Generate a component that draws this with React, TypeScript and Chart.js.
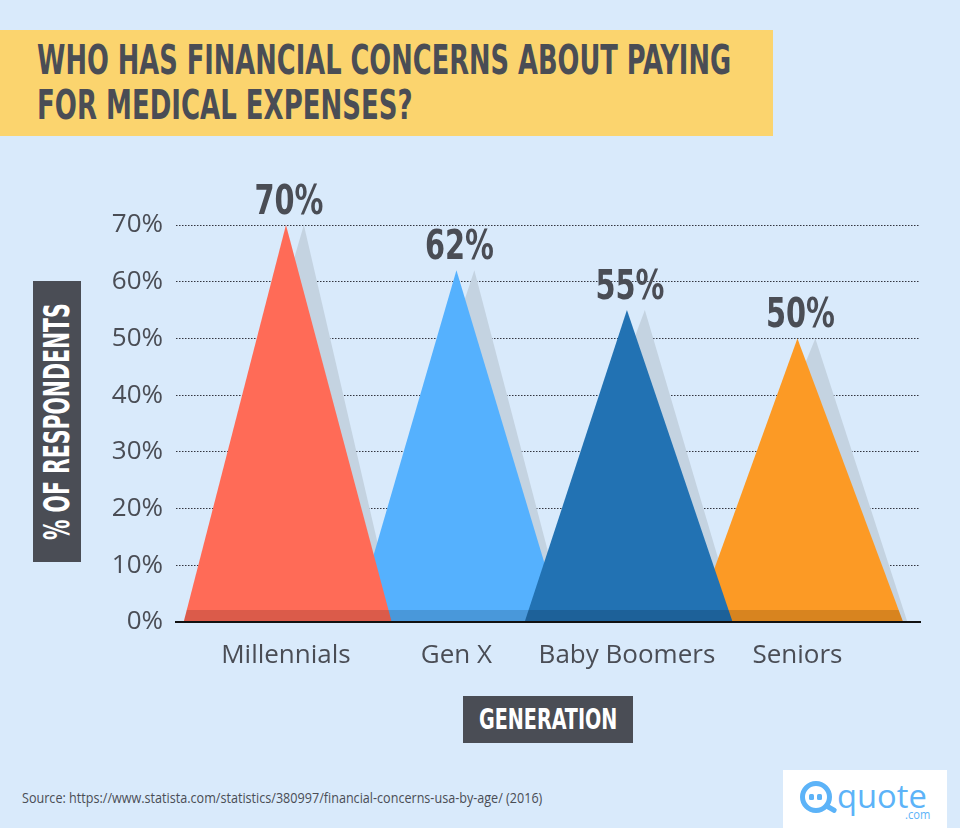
import React, { useEffect, useLayoutEffect, useRef } from 'react';
import { Chart, registerables } from 'chart.js';

Chart.register(...registerables);

// ---------- data ----------
const categories = ['Millennials', 'Gen X', 'Baby Boomers', 'Seniors'];
const values = [70, 62, 55, 50];
const barColors = ['#ff6b57', '#55b1fe', '#2272b3', '#fc9a25'];
const drawOrder = [1, 5, 1, 5]; // lower order is drawn on top
const yTickValues = [0, 10, 20, 30, 40, 50, 60, 70];
const yTickLabels = ['0%', '10%', '20%', '30%', '40%', '50%', '60%', '70%'];
const titleLines = ['WHO HAS FINANCIAL CONCERNS ABOUT PAYING', 'FOR MEDICAL EXPENSES?'];
const yAxisTitle = '% OF RESPONDENTS';
const xAxisTitle = 'GENERATION';
const sourceText = 'Source: https://www.statista.com/statistics/380997/financial-concerns-usa-by-age/ (2016)';

// ---------- style ----------
const BG = '#d9eafb';
const YELLOW = '#fbd46e';
const DARK = '#4a4d55';
const SHADOW = '#c4d3e1';
const LOGO_BLUE = '#5cb3f8';
const NARROW = '"Liberation Sans Narrow", "DejaVu Sans Condensed", "Roboto", sans-serif';
const HALF_LEFT = 0.6;
const HALF_RIGHT = 0.62;
const SHADOW_APEX_SHIFT = 0.105;
const SHADOW_BASE_SHIFT = 0.025;
const X_MIN = -0.645;
const X_MAX = 3.719;

type FitProps = {
  text: string;
  width: number;
  size: number;
  lineHeight: number;
  family: string;
  weight?: number | string;
  color: string;
};

function FitText({ text, width, size, lineHeight, family, weight = 400, color }: FitProps) {
  const ref = useRef<HTMLSpanElement>(null);
  useLayoutEffect(() => {
    const fit = () => {
      const el = ref.current;
      if (!el) return;
      el.style.transform = 'none';
      const w = el.offsetWidth;
      if (w > 0) el.style.transform = `scaleX(${width / w})`;
    };
    fit();
    const fonts = (document as any).fonts;
    if (fonts && fonts.ready) fonts.ready.then(fit);
  }, [text, width]);
  return (
    <div style={{ position: 'relative', width, height: lineHeight }}>
      <span
        ref={ref}
        style={{
          position: 'absolute',
          left: 0,
          top: 0,
          whiteSpace: 'nowrap',
          fontFamily: family,
          fontSize: size,
          fontWeight: weight as any,
          lineHeight: `${lineHeight}px`,
          color,
          transformOrigin: '0 0',
        }}
      >
        {text}
      </span>
    </div>
  );
}

function TriangleChart() {
  const canvasRef = useRef<HTMLCanvasElement>(null);

  useEffect(() => {
    const canvas = canvasRef.current;
    if (!canvas) return;

    const n = categories.length;
    const shadowSets = values.map((v, i) => ({
      label: categories[i] + ' shadow',
      data: [
        { x: i - HALF_LEFT + SHADOW_BASE_SHIFT, y: 0 },
        { x: i + SHADOW_APEX_SHIFT, y: v },
        { x: i + HALF_RIGHT + SHADOW_BASE_SHIFT, y: 0 },
      ],
      backgroundColor: SHADOW,
      borderWidth: 0,
      pointRadius: 0,
      fill: 'origin',
      tension: 0,
      order: 10,
    }));
    const mainSets = values.map((v, i) => ({
      label: categories[i],
      data: [
        { x: i - HALF_LEFT, y: 0 },
        { x: i, y: v },
        { x: i + HALF_RIGHT, y: 0 },
      ],
      backgroundColor: barColors[i],
      borderWidth: 0,
      pointRadius: 0,
      fill: 'origin',
      tension: 0,
      order: drawOrder[i],
    }));
    const mainIndices = values.map((_, i) => i + n);

    const decorPlugin = {
      id: 'decor',
      afterDatasetsDraw(chart: any) {
        const { ctx, chartArea } = chart;
        const metas = mainIndices.map((i) => chart.getDatasetMeta(i));
        // darker strip at the base of every triangle
        ctx.save();
        ctx.beginPath();
        metas.forEach((meta: any) => {
          const p = meta.data;
          ctx.moveTo(p[0].x, p[0].y);
          ctx.lineTo(p[1].x, p[1].y);
          ctx.lineTo(p[2].x, p[2].y);
          ctx.closePath();
        });
        ctx.clip();
        ctx.fillStyle = 'rgba(0,0,0,0.14)';
        ctx.fillRect(chartArea.left, chartArea.bottom - 12, chartArea.right - chartArea.left, 12);
        ctx.restore();
        // value labels
        ctx.save();
        ctx.font = `bold 41px ${NARROW}`;
        ctx.fillStyle = DARK;
        ctx.textAlign = 'center';
        ctx.textBaseline = 'alphabetic';
        metas.forEach((meta: any, k: number) => {
          const p = meta.data[1];
          const txt = values[k] + '%';
          const w = ctx.measureText(txt).width;
          ctx.save();
          ctx.translate(p.x + 3, p.y - 11);
          ctx.scale(69 / w, 1);
          ctx.fillText(txt, 0, 0);
          ctx.restore();
        });
        ctx.restore();
      },
    };

    const chart = new Chart(canvas, {
      type: 'line',
      data: { datasets: [...shadowSets, ...mainSets] as any },
      options: {
        animation: false,
        responsive: false,
        events: [],
        layout: { padding: { left: 0, right: 40, top: 75, bottom: 8 } },
        plugins: {
          legend: { display: false },
          tooltip: { enabled: false },
        },
        scales: {
          x: {
            type: 'linear',
            min: X_MIN,
            max: X_MAX,
            afterBuildTicks: (s: any) => {
              s.ticks = categories.map((_, i) => ({ value: i }));
            },
            afterFit: (s: any) => {
              s.height = 50;
            },
            ticks: {
              callback: (_v: any, i: number) => categories[i],
              font: { family: '"Open Sans", sans-serif', size: 26 },
              color: DARK,
              padding: 18,
              maxRotation: 0,
              autoSkip: false,
            },
            grid: { display: false, drawTicks: false },
            border: { display: true, color: '#111111', width: 2, z: 1 },
          },
          y: {
            type: 'linear',
            min: 0,
            max: 70,
            afterBuildTicks: (s: any) => {
              s.ticks = yTickValues.map((v) => ({ value: v }));
            },
            afterFit: (s: any) => {
              s.width = 176;
            },
            ticks: {
              callback: (_v: any, i: number) => yTickLabels[i],
              font: { family: '"Open Sans", sans-serif', size: 26 },
              color: DARK,
              padding: 13,
            },
            grid: {
              drawTicks: false,
              lineWidth: 1,
              color: (c: any) => (c.tick && c.tick.value === 0 ? 'rgba(0,0,0,0)' : '#333640'),
            },
            border: { display: false, dash: [1.5, 1.5] },
          },
        },
      } as any,
      plugins: [decorPlugin],
    });
    return () => chart.destroy();
  }, []);

  return <canvas ref={canvasRef} width={960} height={530} style={{ width: 960, height: 530, display: 'block' }} />;
}

export default function App() {
  useEffect(() => {
    document.body.style.margin = '0';
    document.body.style.background = BG;
  }, []);

  return (
    <div style={{ position: 'relative', width: 960, height: 828, background: BG, overflow: 'hidden' }}>
      {/* title banner */}
      <div style={{ position: 'absolute', left: 0, top: 30, width: 773, height: 106, background: YELLOW }} />
      <div style={{ position: 'absolute', left: 37, top: 40 }}>
        <FitText text={titleLines[0]} width={694} size={41} lineHeight={41} family={NARROW} weight={700} color={DARK} />
      </div>
      <div style={{ position: 'absolute', left: 37, top: 85 }}>
        <FitText text={titleLines[1]} width={376} size={41} lineHeight={41} family={NARROW} weight={700} color={DARK} />
      </div>

      {/* chart */}
      <div style={{ position: 'absolute', left: 0, top: 150, width: 960, height: 530 }}>
        <TriangleChart />
      </div>

      {/* y axis title */}
      <div style={{ position: 'absolute', left: 33, top: 281, width: 48, height: 281, background: DARK }} />
      <div
        style={{
          position: 'absolute',
          left: 57 - 237 / 2,
          top: 421.5 - 35 / 2,
          width: 237,
          height: 35,
          transform: 'rotate(-90deg)',
          transformOrigin: '50% 50%',
        }}
      >
        <FitText text={yAxisTitle} width={237} size={35} lineHeight={35} family={NARROW} weight={700} color="#ffffff" />
      </div>

      {/* x axis title */}
      <div style={{ position: 'absolute', left: 463, top: 696, width: 170, height: 47, background: DARK }} />
      <div style={{ position: 'absolute', left: 479, top: 704.6 }}>
        <FitText text={xAxisTitle} width={138} size={29} lineHeight={29} family={NARROW} weight={700} color="#ffffff" />
      </div>

      {/* source */}
      <div style={{ position: 'absolute', left: 22, top: 790.6 }}>
        <FitText text={sourceText} width={520} size={14} lineHeight={14} family={'"Open Sans", sans-serif'} color={DARK} />
      </div>

      {/* logo */}
      <div style={{ position: 'absolute', left: 783, top: 770, width: 164, height: 58, background: '#ffffff' }} />
      <div
        style={{
          position: 'absolute',
          left: 800,
          top: 781,
          width: 32,
          height: 32,
          borderRadius: '50%',
          border: `5px solid ${LOGO_BLUE}`,
          boxSizing: 'border-box',
        }}
      />
      <div
        style={{
          position: 'absolute',
          left: 825,
          top: 806,
          width: 12,
          height: 5,
          background: LOGO_BLUE,
          borderRadius: 2,
          transform: 'rotate(30deg)',
        }}
      />
      <div style={{ position: 'absolute', left: 809, top: 794, width: 5, height: 6, background: LOGO_BLUE, borderRadius: 1.5 }} />
      <div style={{ position: 'absolute', left: 817, top: 794, width: 5, height: 6, background: LOGO_BLUE, borderRadius: 1.5 }} />
      <div style={{ position: 'absolute', left: 837, top: 779.6 }}>
        <FitText text="quote" width={90} size={32} lineHeight={32} family={'"Open Sans", sans-serif'} color={LOGO_BLUE} />
      </div>
      <div style={{ position: 'absolute', left: 905, top: 809.3 }}>
        <FitText text=".com" width={25} size={12} lineHeight={12} family={'"Open Sans", sans-serif'} color={LOGO_BLUE} />
      </div>
    </div>
  );
}
